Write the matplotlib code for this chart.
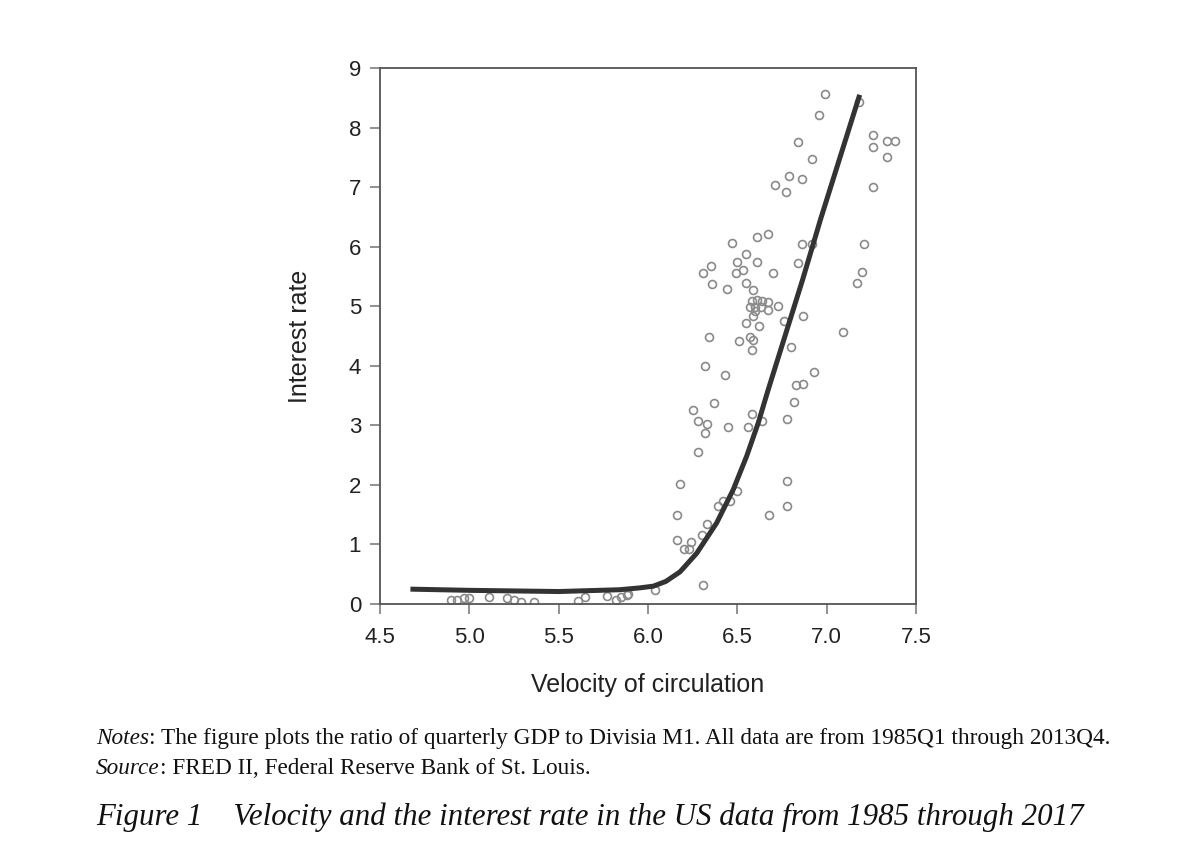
import matplotlib
matplotlib.use("Agg")
import matplotlib.pyplot as plt

# Scatter data: velocity of circulation vs interest rate
velocity = [6.99, 7.18, 6.96, 7.26, 7.34, 7.38, 7.26, 7.34, 6.84, 6.92,
            6.79, 6.86, 6.71, 6.77, 7.26, 6.67, 6.61, 6.47, 6.86, 6.92,
            7.21, 6.55, 6.35, 6.50, 6.61, 6.84, 6.31, 6.53, 6.49, 6.70,
            7.20, 6.36, 6.44, 6.55, 6.59, 7.17, 6.58, 6.61, 6.64, 6.67,
            6.57, 6.60, 6.63, 6.67, 6.60, 6.59, 6.73, 6.76, 6.87, 6.55,
            6.62, 7.09, 6.34, 6.51, 6.57, 6.59, 6.58, 6.80, 6.32, 6.43,
            6.93, 6.83, 6.87, 6.82, 6.37, 6.25, 6.58, 6.28, 6.33, 6.32,
            6.45, 6.56, 6.64, 6.78, 6.28, 6.18, 6.78, 6.50, 6.42, 6.46,
            6.39, 6.16, 6.68, 6.78, 6.33, 6.30, 6.16, 6.20, 6.23, 6.24,
            6.31, 6.04,
            4.90, 4.93, 4.97, 5.00, 5.11, 5.21, 5.25, 5.29, 5.36, 5.61,
            5.65, 5.77, 5.82, 5.85, 5.88, 5.89]
interest = [8.56, 8.43, 8.21, 7.87, 7.78, 7.77, 7.67, 7.50, 7.75, 7.48,
            7.18, 7.13, 7.03, 6.91, 7.01, 6.22, 6.16, 6.06, 6.04, 6.04,
            6.05, 5.88, 5.68, 5.75, 5.74, 5.73, 5.56, 5.61, 5.55, 5.55,
            5.58, 5.37, 5.29, 5.39, 5.28, 5.39, 5.08, 5.11, 5.08, 5.07,
            4.98, 4.98, 4.98, 4.93, 4.92, 4.84, 5.01, 4.75, 4.83, 4.72,
            4.66, 4.56, 4.49, 4.42, 4.48, 4.43, 4.27, 4.32, 4.00, 3.84,
            3.90, 3.67, 3.69, 3.40, 3.37, 3.25, 3.19, 3.07, 3.02, 2.87,
            2.98, 2.97, 3.08, 3.10, 2.55, 2.02, 2.06, 1.89, 1.73, 1.73,
            1.65, 1.50, 1.50, 1.64, 1.34, 1.16, 1.08, 0.92, 0.92, 1.04,
            0.32, 0.23,
            0.07, 0.06, 0.10, 0.10, 0.11, 0.10, 0.07, 0.03, 0.04, 0.05,
            0.12, 0.14, 0.06, 0.11, 0.15, 0.17]

# Fitted curve
fit_x = [4.67, 5.0, 5.5, 5.84, 5.95, 6.03, 6.10, 6.179, 6.272, 6.384,
         6.477, 6.552, 6.617, 6.673, 6.867, 6.966, 7.185]
fit_y = [0.25, 0.23, 0.21, 0.24, 0.27, 0.30, 0.38, 0.54, 0.85, 1.36,
         1.92, 2.48, 3.04, 3.60, 5.46, 6.46, 8.55]

xticks = [4.5, 5.0, 5.5, 6.0, 6.5, 7.0, 7.5]
xticklabels = ["4.5", "5.0", "5.5", "6.0", "6.5", "7.0", "7.5"]
yticks = list(range(0, 10))

sans = ["Liberation Sans", "DejaVu Sans"]
serif = ["Liberation Serif", "DejaVu Serif"]

fig = plt.figure(figsize=(12, 8.66), dpi=100)
ax = fig.add_axes([0.3167, 0.3025, 0.4466, 0.619])

ax.plot(velocity, interest, linestyle="none", marker="o", markersize=5.7,
        markerfacecolor="none", markeredgecolor="#8a8a8a", markeredgewidth=1.2,
        zorder=2)
ax.plot(fit_x, fit_y, color="#333333", linewidth=3.6, solid_capstyle="butt",
        solid_joinstyle="round", zorder=3)

ax.set_xlim(4.5, 7.5)
ax.set_ylim(0, 9)
ax.set_xticks(xticks)
ax.set_xticklabels(xticklabels)
ax.set_yticks(yticks)

for lab in ax.get_xticklabels() + ax.get_yticklabels():
    lab.set_family(sans)
    lab.set_fontsize(16)
    lab.set_color("#222222")
ax.tick_params(direction="out", length=7.2, width=1.3, color="#888888")
ax.tick_params(axis="x", pad=9)
ax.tick_params(axis="y", pad=6.5)
for s in ax.spines.values():
    s.set_color("#555555")
    s.set_linewidth(1.3)

ax.set_xlabel("Velocity of circulation", family=sans, fontsize=18,
              color="#222222", labelpad=18)
ax.set_ylabel("Interest rate", family=sans, fontsize=18,
              color="#222222", labelpad=26)

fig.canvas.draw()
renderer = fig.canvas.get_renderer()


def two_part(x, y, italic, rest, size):
    t1 = fig.text(x, y, italic, fontsize=size, family=serif, style="italic",
                  color="#111111", va="baseline")
    bb = t1.get_window_extent(renderer=renderer)
    x2 = bb.x1 / fig.bbox.width
    fig.text(x2, y, rest, fontsize=size, family=serif, color="#111111",
             va="baseline")


two_part(0.08, 0.1409, "Notes",
         ": The figure plots the ratio of quarterly GDP to Divisia M1. All data are from 1985Q1 through 2013Q4.",
         16.75)
two_part(0.08, 0.1062, "Source", ": FRED II, Federal Reserve Bank of St. Louis.", 16.75)

fig.text(0.08, 0.0473,
         "Figure 1    Velocity and the interest rate in the US data from 1985 through 2017",
         fontsize=22.2, family=serif, style="italic", color="#111111",
         va="baseline")

fig.savefig("out.png", dpi=100)
